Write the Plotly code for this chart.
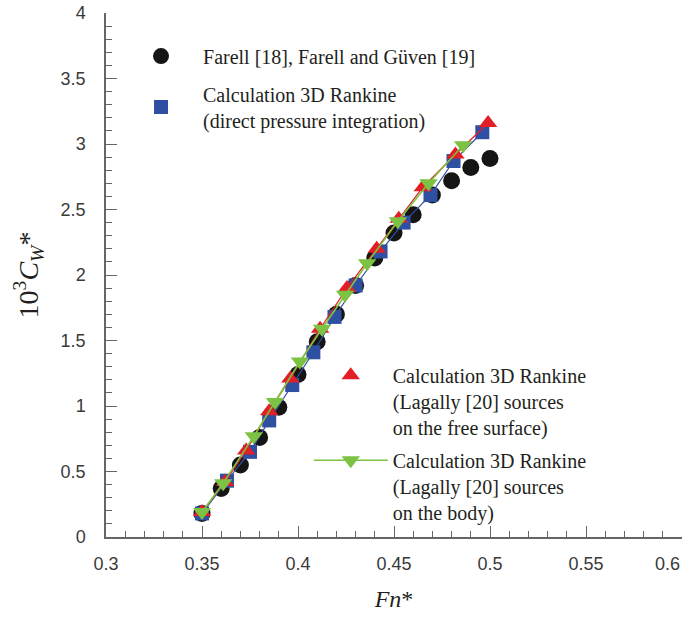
import plotly.graph_objects as go

# Experimental wave-resistance data (Farell; Farell and Güven)
fn_exp = [0.35, 0.36, 0.37, 0.38, 0.39, 0.40, 0.41, 0.42, 0.43, 0.44,
          0.45, 0.46, 0.47, 0.48, 0.49, 0.50]
cw_exp = [0.18, 0.37, 0.55, 0.76, 0.99, 1.24, 1.49, 1.70, 1.92, 2.13,
          2.32, 2.46, 2.61, 2.72, 2.82, 2.89]

# 3D Rankine, direct pressure integration
fn_press = [0.350, 0.363, 0.375, 0.385, 0.397, 0.408, 0.419, 0.430, 0.443,
            0.455, 0.469, 0.481, 0.496]
cw_press = [0.18, 0.43, 0.65, 0.89, 1.16, 1.41, 1.68, 1.92, 2.18,
            2.40, 2.61, 2.87, 3.09]

# 3D Rankine, Lagally sources on the free surface
fn_fs = [0.350, 0.362, 0.373, 0.385, 0.396, 0.4115, 0.4255, 0.441,
         0.4525, 0.465, 0.482, 0.499]
cw_fs = [0.19, 0.42, 0.66, 0.96, 1.21, 1.59, 1.90, 2.20, 2.43, 2.67,
         2.92, 3.16]

# 3D Rankine, Lagally sources on the body
fn_body = [0.350, 0.361, 0.377, 0.388, 0.401, 0.4125, 0.4245, 0.436,
           0.452, 0.468, 0.486]
cw_body = [0.19, 0.41, 0.77, 1.03, 1.34, 1.59, 1.85, 2.09, 2.41, 2.70, 2.99]

x_ticks = [0.3, 0.35, 0.4, 0.45, 0.5, 0.55, 0.6]
# the last label is written separately, right-aligned to its tick
x_tick_text = ["0.3", "0.35", "0.4", "0.45", "0.5", "0.55", ""]
x_last_label = "0.6"
y_ticks = [0, 0.5, 1, 1.5, 2, 2.5, 3, 3.5, 4]
y_tick_text = ["0", "0.5", "1", "1.5", "2", "2.5", "3", "3.5", "4"]

legend_texts = [
    "Farell [18], Farell and Güven [19]",
    "Calculation 3D Rankine<br>(direct pressure integration)",
    "Calculation 3D Rankine<br>(Lagally [20] sources<br>on the free surface)",
    "Calculation 3D Rankine<br>(Lagally [20] sources<br>on the body)",
]

BLACK = "#151515"
BLUE = "#2f4fa2"
RED = "#e21f26"
GREEN = "#7cc243"
TEXT = "#231f20"
AXIS = "#666666"
TICK_TEXT = "#3a3a3a"
SERIF = "Times New Roman, Liberation Serif, serif"
SANS = "Arial, Liberation Sans, sans-serif"

fig = go.Figure()

fig.add_trace(go.Scatter(
    x=fn_exp, y=cw_exp, mode="markers", name=legend_texts[0],
    marker=dict(symbol="circle", size=17, color=BLACK),
    legend="legend", legendgroup="exp",
))
fig.add_trace(go.Scatter(
    x=fn_press, y=cw_press, mode="lines", showlegend=False,
    line=dict(color=BLUE, width=1.2),
))
fig.add_trace(go.Scatter(
    x=fn_press, y=cw_press, mode="markers", name=legend_texts[1],
    marker=dict(symbol="square", size=14, color=BLUE),
    legend="legend", legendgroup="press",
))
fig.add_trace(go.Scatter(
    x=fn_fs, y=cw_fs, mode="lines", showlegend=False,
    line=dict(color=RED, width=1.2),
))
fig.add_trace(go.Scatter(
    x=fn_fs, y=cw_fs, mode="markers", name=legend_texts[2],
    marker=dict(symbol="triangle-up", size=16, color=RED),
    legend="legend2", legendgroup="fs",
))
fig.add_trace(go.Scatter(
    x=fn_body, y=cw_body, mode="lines+markers", name=legend_texts[3],
    line=dict(color=GREEN, width=1.6),
    marker=dict(symbol="triangle-down", size=16, color=GREEN),
    legend="legend2", legendgroup="body",
))

axis_common = dict(
    showline=True, linecolor=AXIS, linewidth=1.5,
    ticks="inside", ticklen=11, tickwidth=1.2, tickcolor=AXIS,
    showgrid=False, zeroline=False, mirror=False, automargin=False,
    tickfont=dict(family=SANS, size=18, color=TICK_TEXT),
)

legend_common = dict(
    xanchor="left", yanchor="top", bgcolor="rgba(0,0,0,0)",
    font=dict(family=SERIF, size=20, color=TEXT),
    itemwidth=74,
)

fig.update_layout(
    width=694, height=618,
    margin=dict(l=106, r=12, t=13, b=81),
    paper_bgcolor="white", plot_bgcolor="white",
    xaxis=dict(
        range=[0.3, 0.6], tickvals=x_ticks, ticktext=x_tick_text,
        minor=dict(dtick=0.01, ticks="inside", ticklen=6,
                   tickcolor=AXIS, tickwidth=1),
        title=dict(text="<i>Fn</i>*", font=dict(family=SERIF, size=24, color=TEXT),
                   standoff=17),
        ticklabelstandoff=10,
        **axis_common,
    ),
    yaxis=dict(
        range=[0, 4], tickvals=y_ticks, ticktext=y_tick_text,
        minor=dict(dtick=0.1, ticks="inside", ticklen=6,
                   tickcolor=AXIS, tickwidth=1),
        title=dict(text="10<sup>3</sup><i>C<sub>W</sub></i>*",
                   font=dict(family=SERIF, size=28, color=TEXT), standoff=14),
        ticklabelstandoff=15,
        **axis_common,
    ),
    legend=dict(x=0.0226, y=0.955, valign="middle", tracegroupgap=9,
                **legend_common),
    legend2=dict(x=0.352, y=0.346, valign="top", tracegroupgap=4,
                 **legend_common),
    annotations=[dict(
        x=x_ticks[-1], xref="x", xanchor="right",
        y=0, yref="paper", yanchor="top", yshift=-15,
        text=x_last_label, showarrow=False,
        font=dict(family=SANS, size=18, color=TICK_TEXT),
    )],
)

fig.write_html("out.html")
